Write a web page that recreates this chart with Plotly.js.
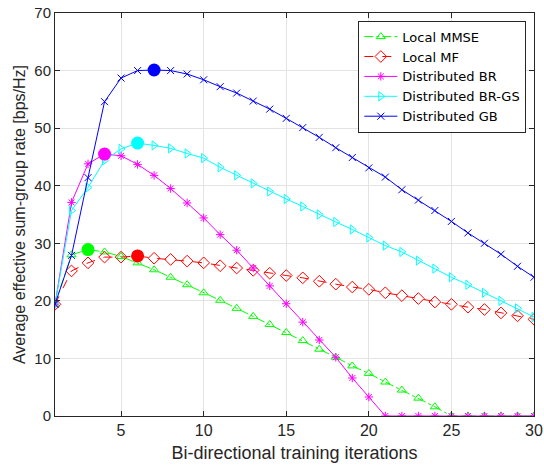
<!DOCTYPE html>
<html>
<head>
<meta charset="utf-8">
<script src="https://cdn.plot.ly/plotly-3.0.1.min.js"></script>
<style>
html,body{margin:0;padding:0;background:#fff;}
#chart{width:544px;height:465px;}
</style>
</head>
<body>
<div id="chart"></div>
<script>
var iterations = [1,2,3,4,5,6,7,8,9,10,11,12,13,14,15,16,17,18,19,20,21,22,23,24,25,26,27,28,29,30];
var localMMSE = [19.4,28.0,28.9,28.5,27.7,26.6,25.4,24.1,22.8,21.4,20.1,18.7,17.3,15.9,14.5,13.1,11.6,10.2,8.7,7.4,5.9,4.5,3.1,1.6,0,0,0,0,0,0];
var localMF = [19.4,25.2,26.6,27.6,27.6,27.8,27.4,27.2,26.9,26.6,26.1,25.7,25.3,24.8,24.4,24.0,23.4,22.9,22.4,22.0,21.4,20.9,20.4,19.8,19.4,18.9,18.5,17.9,17.4,16.8];
var distBR = [19.4,37.1,43.8,45.5,45.2,43.7,41.8,39.5,37.0,34.4,31.5,28.8,25.7,22.6,19.5,16.3,13.2,10.2,6.6,3.3,0,0,0,0,0,0,0,0,0,0];
var distBRGS = [19.4,35.7,39.7,44.4,46.4,47.4,47.0,46.5,45.6,44.8,43.2,41.8,40.4,39.0,37.7,36.4,35.0,33.7,32.4,31.0,29.6,28.5,27.0,25.6,24.1,22.8,21.4,20.0,18.7,17.2];
var distGB = [19.4,27.9,41.4,54.6,58.7,60.0,60.1,60.0,59.4,58.4,57.2,56.1,54.7,53.3,51.7,50.1,48.4,46.6,44.9,43.1,41.5,39.3,37.5,35.7,33.8,31.8,30.0,28.1,26.0,24.1];
var seriesNames = ["Local MMSE","Local MF","Distributed BR","Distributed BR-GS","Distributed GB"];
var xTicks = [5,10,15,20,25,30];
var yTicks = [0,10,20,30,40,50,60,70];

var seriesData = [localMMSE, localMF, distBR, distBRGS, distGB];
var colors = ["#00ff00","#ff0000","#ff00ff","#00ffff","#0000ff"];
var dashes = ["dashdot","dash","solid","solid","solid"];
var symbols = ["triangle-up-open","diamond-open","asterisk-open","triangle-right-open","x-thin-open"];
var msizes = [8,9,7,8,7];

var traces = [];
for (var k=0;k<seriesData.length;k++){
  traces.push({
    x: iterations, y: seriesData[k], name: seriesNames[k], type:'scatter', mode:'lines+markers',
    line:{color:colors[k], width:1, dash:dashes[k]},
    marker:{symbol:symbols[k], size:msizes[k], color:colors[k], line:{color:colors[k], width:1}}
  });
}
for (var k=0;k<seriesData.length;k++){
  var d = seriesData[k], mi = 0;
  for (var j=1;j<d.length;j++){ if (d[j]>d[mi]) mi=j; }
  traces.push({
    x:[iterations[mi]], y:[d[mi]], type:'scatter', mode:'markers', showlegend:false, hoverinfo:'skip',
    marker:{symbol:'circle', size:13, color:colors[k]}
  });
}

var axisCommon = {
  showline:true, linecolor:'#262626', linewidth:1, mirror:'ticks',
  ticks:'inside', ticklen:5, tickcolor:'#262626', tickwidth:1,
  showgrid:true, gridcolor:'#e3e3e3', gridwidth:1, zeroline:false,
  tickfont:{family:'Liberation Sans, Arial, sans-serif', size:15, color:'#262626'}
};

var layout = {
  width:544, height:465,
  margin:{l:55, r:10, t:13, b:49},
  paper_bgcolor:'#fff', plot_bgcolor:'#fff',
  font:{family:'Liberation Sans, Arial, sans-serif', color:'#262626'},
  xaxis: Object.assign({}, axisCommon, {
    range:[1,30], tickvals:xTicks, ticktext:xTicks.map(String),
    tickfont:{family:'Liberation Sans, Arial, sans-serif', size:16, color:'#262626'},
    title:{text:'Bi-directional training iterations', font:{size:18, color:'#262626'}, standoff:8}
  }),
  yaxis: Object.assign({}, axisCommon, {
    range:[0,70], tickvals:yTicks, ticktext:yTicks.map(String),
    title:{text:'Average effective sum-group rate [bps/Hz]', font:{size:16, color:'#262626'}, standoff:4}
  }),
  legend:{
    x:0.984, y:0.981, xanchor:'right', yanchor:'top',
    bgcolor:'#fff', bordercolor:'#262626', borderwidth:1,
    font:{family:'DejaVu Sans, sans-serif', size:13, color:'#000'},
    itemwidth:33, tracegroupgap:0
  },
  showlegend:true
};

Plotly.newPlot('chart', traces, layout, {displayModeBar:false, staticPlot:true});
</script>
</body>
</html>
